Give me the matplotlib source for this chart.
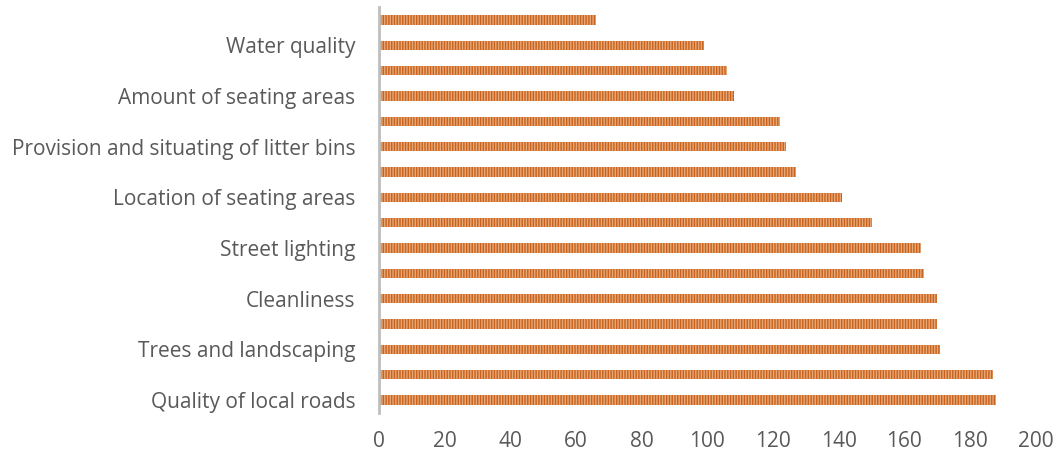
import matplotlib
matplotlib.use("Agg")
import matplotlib.pyplot as plt

# categories from bottom to top (unlabelled ones shown blank as in the reference)
categories = ["Quality of local roads", "", "Trees and landscaping", "", "Cleanliness", "",
              "Street lighting", "", "Location of seating areas", "",
              "Provision and situating of litter bins", "", "Amount of seating areas", "",
              "Water quality", ""]
values = [188, 187, 171, 170, 170, 166, 165, 150, 141, 127, 124, 122, 108, 106, 99, 66]
xticks = [0, 20, 40, 60, 80, 100, 120, 140, 160, 180, 200]

plt.rcParams['hatch.linewidth'] = 1.0
fig = plt.figure(figsize=(10.59, 4.55), dpi=100)
ax = fig.add_axes([0.358, 0.093, 0.62, 0.891])

pos = list(range(len(values)))
ax.barh(pos, values, height=0.36, color="#C8621C", edgecolor="#E7A878",
        linewidth=0, hatch="||||||")

ax.set_xlim(0, 200)
ax.set_ylim(-0.5, len(values) - 0.5)
ax.set_yticks(pos)
ax.set_yticklabels(categories)
ax.set_xticks(xticks)
ax.set_xticklabels([str(t) for t in xticks])

for s in ["top", "right", "bottom"]:
    ax.spines[s].set_visible(False)
ax.spines["left"].set_color("#BFBFBF")
ax.spines["left"].set_linewidth(2)
ax.tick_params(axis="both", length=0, colors="#595959", labelsize=15)
ax.tick_params(axis="y", pad=17)
ax.tick_params(axis="x", pad=13)
for lab in ax.get_xticklabels() + ax.get_yticklabels():
    lab.set_fontfamily("Open Sans")

fig.savefig("out.png", dpi=100)
